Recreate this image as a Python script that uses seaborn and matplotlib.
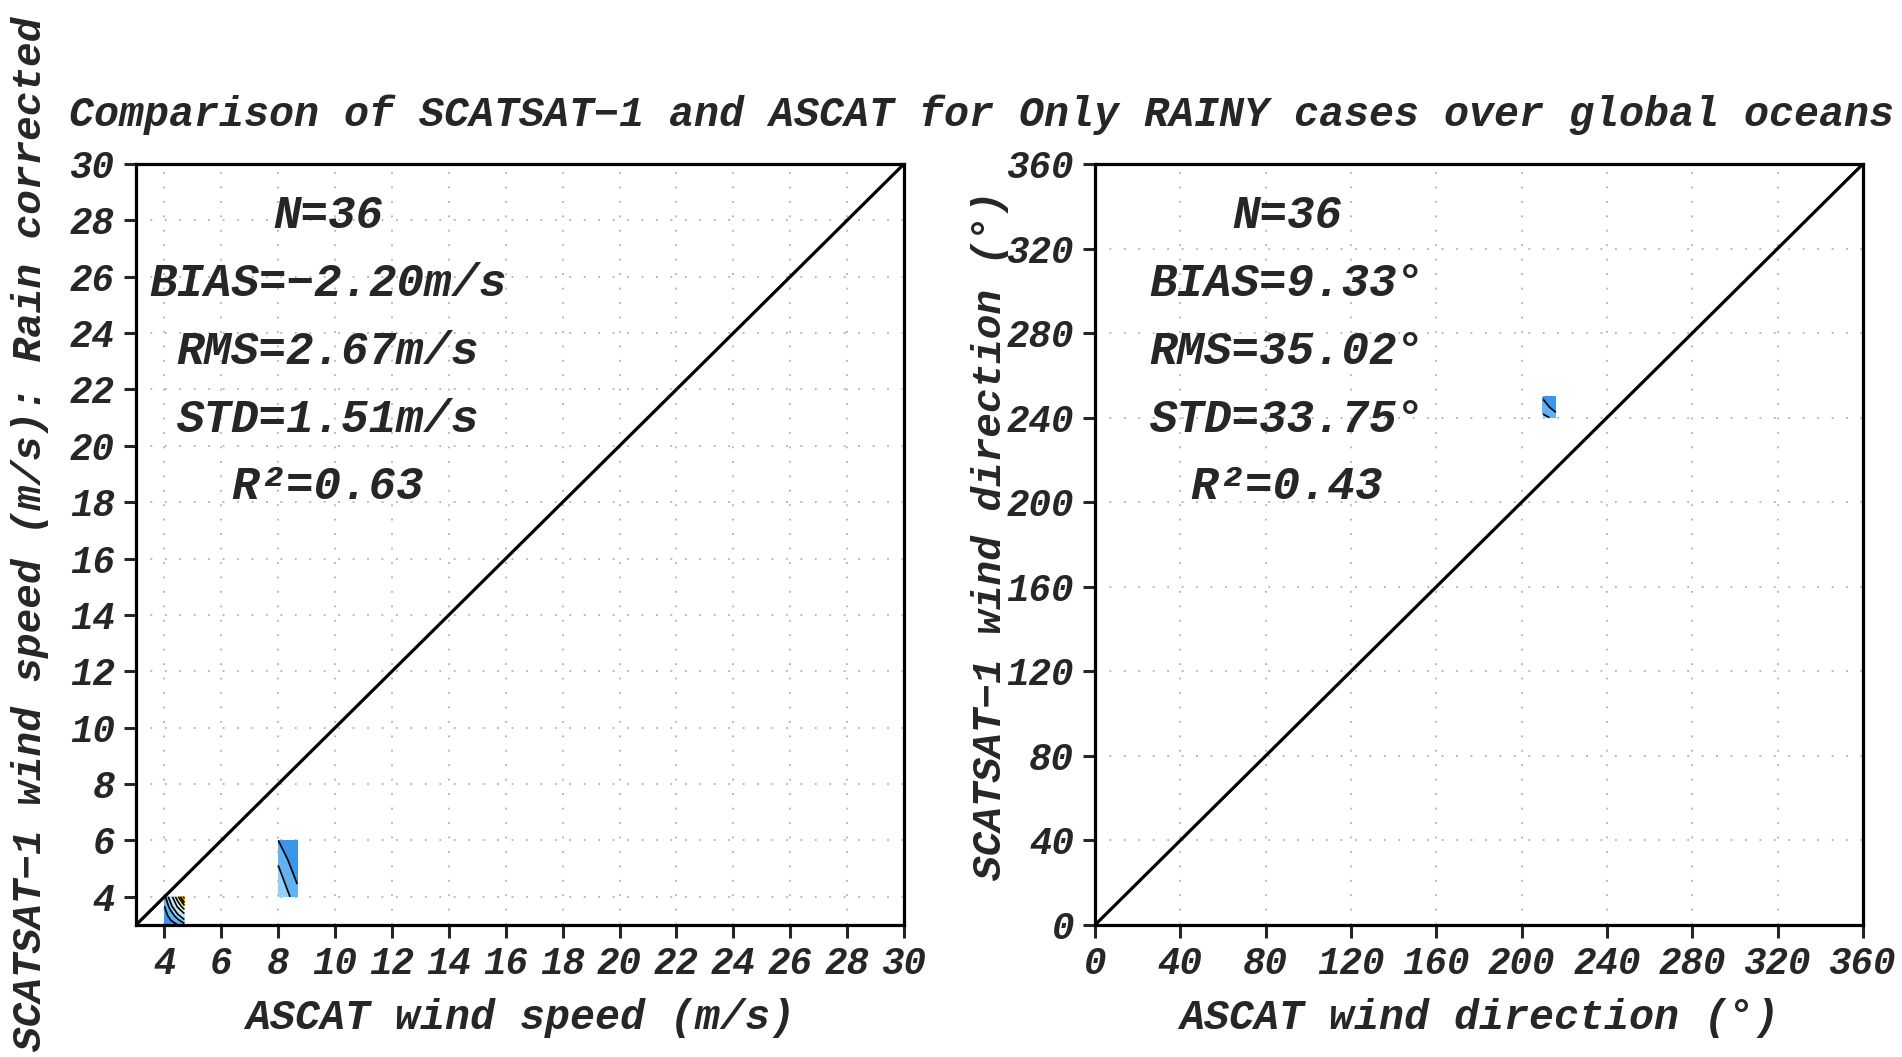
import numpy as np
import matplotlib
matplotlib.use("Agg")
import matplotlib.pyplot as plt
from matplotlib.colors import ListedColormap, BoundaryNorm
import seaborn as sns

## values
title = "Comparison of SCATSAT\u22121 and ASCAT for Only RAINY cases over global oceans"

spd_ticks = list(range(4, 31, 2))
dir_ticks = list(range(0, 361, 40))
spd_lim = [3, 30]
dir_lim = [0, 360]

spd_stats = ["N=36", "BIAS=\u22122.20m/s", "RMS=2.67m/s", "STD=1.51m/s", "R\u00b2=0.63"]
dir_stats = ["N=36", "BIAS=9.33\u00b0", "RMS=35.02\u00b0", "STD=33.75\u00b0", "R\u00b2=0.43"]

## density patches (x grid, y grid, values)
spd_box1_x = [4.0, 4.23, 4.47, 4.7]
spd_box1_y = [3.0, 3.33, 3.67, 4.0]
spd_box1_z = [[0.6, 0.8, 1.0, 1.3],
              [0.8, 1.2, 1.8, 2.5],
              [1.0, 1.8, 3.2, 4.8],
              [1.3, 2.5, 4.8, 8.0]]

spd_box2_x = [8.0, 8.33, 8.67]
spd_box2_y = [4.0, 4.67, 5.33, 6.0]
spd_box2_z = [[1.9, 1.6, 1.2],
              [1.7, 1.3, 0.9],
              [1.4, 1.0, 0.7],
              [1.0, 0.7, 0.5]]

dir_box_x = [210, 213, 216]
dir_box_y = [240, 245, 250]
dir_box_z = [[1.6, 1.5, 1.2],
             [1.3, 1.0, 0.8],
             [0.9, 0.7, 0.5]]

levels = [0, 1, 1.5, 2, 3, 4, 5, 6, 7.5, 9, 11]
colors = ['#3b95ea', '#62b2f2', '#92d0f6', '#bfe9f8', '#e4f8f2',
          '#fff6b0', '#fbd84a', '#f0a830', '#c06a20', '#7a3a10']

sns.set_style("white")
plt.rcParams['font.family'] = ['Liberation Mono', 'DejaVu Sans']
plt.rcParams['font.weight'] = 'bold'
plt.rcParams['font.style'] = 'italic'
plt.rcParams['axes.labelweight'] = 'bold'

cmap = ListedColormap(colors)
norm = BoundaryNorm(levels, cmap.N)

fig = plt.figure(figsize=(19.02, 10.57), dpi=100)
ax1 = fig.add_axes([0.0715, 0.1249, 0.4038, 0.72])
ax2 = fig.add_axes([0.5757, 0.1249, 0.4038, 0.72])


def patch(ax, x, y, z):
    ax.contourf(x, y, np.array(z), levels=levels, cmap=cmap, norm=norm, zorder=2)
    ax.contour(x, y, np.array(z), levels=levels[1:-1], colors='black',
               linewidths=1.2, zorder=3)


def style(ax, lim, ticks, stats, xlabel):
    sns.lineplot(x=lim, y=lim, ax=ax, color='black', linewidth=2.3, zorder=4)
    ax.set_xlim(lim)
    ax.set_ylim(lim)
    ax.set_xticks(ticks)
    ax.set_yticks(ticks)
    ax.grid(True, color='#b0b0b0', linestyle=(0, (1, 7)), linewidth=1.3)
    ax.set_axisbelow(True)
    for s in ax.spines.values():
        s.set_linewidth(2.3)
        s.set_color('black')
    ax.tick_params(direction='out', length=9, width=2.2, labelsize=27, pad=6,
                   bottom=True, left=True)
    ax.set_xlabel(xlabel, fontsize=30, fontweight='bold', labelpad=12)
    ys = [0.931, 0.842, 0.753, 0.664, 0.576]
    for txt, yy in zip(stats, ys):
        ax.text(0.25, yy, txt, transform=ax.transAxes, ha='center', va='center',
                fontsize=33, zorder=5)


patch(ax1, spd_box1_x, spd_box1_y, spd_box1_z)
patch(ax1, spd_box2_x, spd_box2_y, spd_box2_z)
patch(ax2, dir_box_x, dir_box_y, dir_box_z)

style(ax1, spd_lim, spd_ticks, spd_stats, "ASCAT wind speed (m/s)")
style(ax2, dir_lim, dir_ticks, dir_stats, "ASCAT wind direction (\u00b0)")

fig.text(30 / 1902, 1 - 534 / 1057, "SCATSAT\u22121 wind speed (m/s): Rain corrected",
         rotation=90, ha='center', va='center', fontsize=29.5)
fig.text(990 / 1902, 1 - 535 / 1057, "SCATSAT\u22121 wind direction (\u00b0)",
         rotation=90, ha='center', va='center', fontsize=29.5)
fig.text(69 / 1902, 1 - 115 / 1057, title, ha='left', va='center', fontsize=30)

fig.savefig("out.png", dpi=100, facecolor='white')
